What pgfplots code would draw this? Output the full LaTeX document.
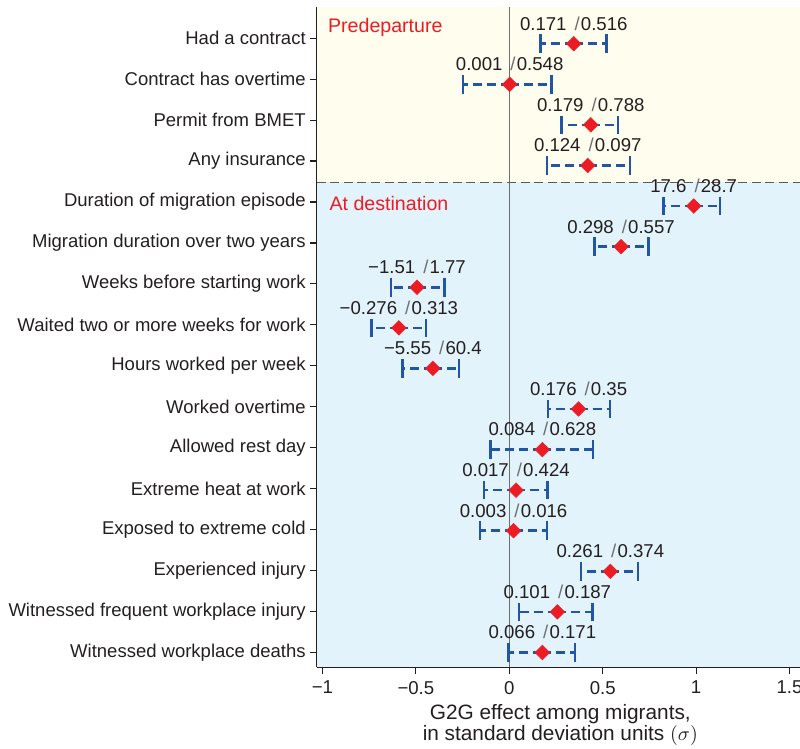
\documentclass[border=0pt]{standalone}
\usepackage{fontspec}
\setmainfont{Liberation Sans}
\usepackage{pgfplots}
\pgfplotsset{compat=1.18}
\usepackage{pgfplotstable}
\definecolor{bgY}{RGB}{255,253,238}
\definecolor{bgB}{RGB}{226,243,251}
\definecolor{mred}{RGB}{236,28,36}
\definecolor{mblue}{RGB}{35,85,165}
\definecolor{txt}{RGB}{35,31,32}
\definecolor{zline}{RGB}{110,110,110}
\definecolor{sep}{RGB}{90,90,90}
\DeclareRobustCommand\lab[2]{#1\hspace{4pt}{\color{zline}/}\hspace{0.6pt}#2}

\pgfplotstableread[col sep=comma, row sep=\\]{
y,x,ep,em,lab\\
15.868,0.345,0.176,0.177,\lab{0.171}{0.516}\\
14.876,0.002,0.225,0.250,\lab{0.001}{0.548}\\
13.885,0.436,0.146,0.157,\lab{0.179}{0.788}\\
12.893,0.420,0.225,0.218,\lab{0.124}{0.097}\\
11.902,0.987,0.140,0.162,\lab{17.6}{28.7}\\
10.910,0.598,0.148,0.143,\lab{0.298}{0.557}\\
9.919,-0.494,0.146,0.140,\lab{−1.51}{1.77}\\
8.927,-0.591,0.145,0.146,\lab{−0.276}{0.313}\\
7.936,-0.409,0.139,0.162,\lab{−5.55}{60.4}\\
6.944,0.371,0.168,0.164,\lab{0.176}{0.35}\\
5.953,0.177,0.271,0.277,\lab{0.084}{0.628}\\
4.961,0.036,0.169,0.172,\lab{0.017}{0.424}\\
3.970,0.023,0.179,0.180,\lab{0.003}{0.016}\\
2.978,0.541,0.148,0.157,\lab{0.261}{0.374}\\
1.987,0.257,0.188,0.205,\lab{0.101}{0.187}\\
0.995,0.177,0.175,0.182,\lab{0.066}{0.171}\\
}\data

\begin{document}
\begin{tikzpicture}
\begin{axis}[
  name=ax,
  scale only axis,
  width=241.65pt, height=330.4pt,
  xmin=-1.031, xmax=1.556,
  ymin=0.629, ymax=16.772,
  clip=false,
  axis x line*=bottom, axis y line*=left,
  axis line style={txt, line width=0.6pt},
  axis on top,
  tick align=outside,
  major tick length=3.3pt,
  tick style={txt, line width=0.6pt},
  xtick={-1,-0.5,0,0.5,1,1.5},
  xticklabels={−1,−0.5,0,0.5,1,1.5},
  ytick={1,2,3,4,5,6,7,8,9,10,11,12,13,14,15,16},
  yticklabels={Witnessed workplace deaths,Witnessed frequent workplace injury,Experienced injury,Exposed to extreme cold,Extreme heat at work,Allowed rest day,Worked overtime,Hours worked per week,Waited two or more weeks for work,Weeks before starting work,Migration duration over two years,Duration of migration episode,Any insurance,Permit from BMET,Contract has overtime,Had a contract},
  xticklabel style={font=\fontsize{9.3pt}{11pt}\selectfont, text=txt},
  yticklabel style={font=\fontsize{9.25pt}{11pt}\selectfont, text=txt, inner xsep=2pt},
]
\fill[bgY] (axis cs:-1.031,12.482) rectangle (axis cs:1.556,16.772);
\fill[bgB] (axis cs:-1.031,0.629) rectangle (axis cs:1.556,12.482);
\draw[zline, line width=0.55pt] (axis cs:0,0.629) -- (axis cs:0,16.772);
\draw[sep, line width=0.7pt, dash pattern=on 4.5pt off 2.3pt] (axis cs:-1.031,12.482) -- (axis cs:1.556,12.482);
\node[anchor=base west, inner sep=0pt, text=mred, font=\fontsize{9.8pt}{11pt}\selectfont] at (axis cs:-0.972,16.13) {Predeparture};
\node[anchor=base west, inner sep=0pt, text=mred, font=\fontsize{9.8pt}{11pt}\selectfont] at (axis cs:-0.964,11.805) {At destination};

\addplot[
  only marks,
  mark=square*,
  mark size=2.6pt,
  mark options={rotate=45, fill=mred, draw=mred, line width=0.2pt},
  nodes near coords,
  point meta=explicit symbolic,
  nodes near coords align={anchor=base},
  every node near coord/.append style={font=\fontsize{9.3pt}{10pt}\selectfont, text=txt, inner sep=0pt, yshift=6.8pt},
  error bars/.cd,
    x dir=both, x explicit,
    error mark=|,
    error bar style={mblue, line width=1.3pt, dash pattern=on 4.5pt off 2.5pt},
    error mark options={mblue, line width=1.3pt, solid, mark size=4.65pt},
] table[x=x, y=y, x error plus=ep, x error minus=em, meta=lab] {\data};
\end{axis}
\node[anchor=base, inner sep=0pt, text=txt, font=\fontsize{10.4pt}{11pt}\selectfont] at ([xshift=1pt, yshift=-25.9pt]ax.south) {G2G effect among migrants,};
\node[anchor=base, inner sep=0pt, text=txt, font=\fontsize{10.4pt}{11pt}\selectfont] at ([xshift=1pt, yshift=-36.75pt]ax.south) {in standard deviation units $(\sigma)$};
\pgfresetboundingbox
\path[use as bounding box] ([xshift=-158.35pt, yshift=-40.75pt]ax.south west) rectangle ([yshift=3.35pt]ax.north east);
\end{tikzpicture}
\end{document}
